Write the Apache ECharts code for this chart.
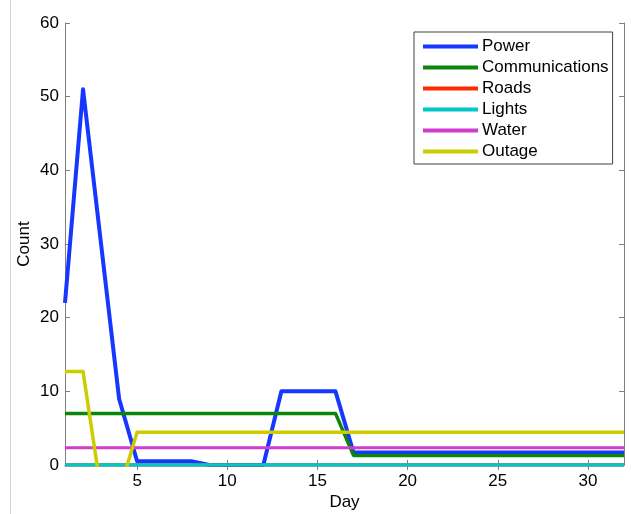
<!DOCTYPE html>
<html>
<head>
<meta charset="utf-8">
<script src="https://cdn.jsdelivr.net/npm/echarts@6/dist/echarts.min.js"></script>
<style>
  html, body { margin: 0; padding: 0; background: #fff; }
  #chart { width: 631px; height: 514px; }
</style>
</head>
<body>
<div id="chart"></div>
<script>
// Daily report counts by category
const days = [1, 2, 3, 4, 5, 6, 7, 8, 9, 10, 11, 12, 13, 14, 15, 16,
              17, 18, 19, 20, 21, 22, 23, 24, 25, 26, 27, 28, 29, 30, 31, 32];
const power = [22, 51, 30, 9, 0.5, 0.5, 0.5, 0.5, 0, 0, 0, 0, 10, 10, 10, 10,
               1.7, 1.7, 1.7, 1.7, 1.7, 1.7, 1.7, 1.7, 1.7, 1.7, 1.7, 1.7, 1.7, 1.7, 1.7, 1.7];
const communications = [7, 7, 7, 7, 7, 7, 7, 7, 7, 7, 7, 7, 7, 7, 7, 7,
                        1.3, 1.3, 1.3, 1.3, 1.3, 1.3, 1.3, 1.3, 1.3, 1.3, 1.3, 1.3, 1.3, 1.3, 1.3, 1.3];
const roads = [0, 0, 0, 0, 0, 0, 0, 0, 0, 0, 0, 0, 0, 0, 0, 0,
               0, 0, 0, 0, 0, 0, 0, 0, 0, 0, 0, 0, 0, 0, 0, 0];
const lights = [0, 0, 0, 0, 0, 0, 0, 0, 0, 0, 0, 0, 0, 0, 0, 0,
                0, 0, 0, 0, 0, 0, 0, 0, 0, 0, 0, 0, 0, 0, 0, 0];
const water = [2.35, 2.35, 2.35, 2.35, 2.35, 2.35, 2.35, 2.35, 2.35, 2.35, 2.35, 2.35, 2.35, 2.35, 2.35, 2.35,
               2.35, 2.35, 2.35, 2.35, 2.35, 2.35, 2.35, 2.35, 2.35, 2.35, 2.35, 2.35, 2.35, 2.35, 2.35, 2.35];
const outage = [12.7, 12.7, -3.6, -3.6, 4.45, 4.45, 4.45, 4.45, 4.45, 4.45, 4.45, 4.45, 4.45, 4.45, 4.45, 4.45,
                4.45, 4.45, 4.45, 4.45, 4.45, 4.45, 4.45, 4.45, 4.45, 4.45, 4.45, 4.45, 4.45, 4.45, 4.45, 4.45];
const xTicks = [5, 10, 15, 20, 25, 30];

const seriesDefs = [
  { name: 'Power', data: power, color: '#1537ff', width: 4 },
  { name: 'Communications', data: communications, color: '#0a870a', width: 3.5 },
  { name: 'Roads', data: roads, color: '#ff2a00', width: 3.5 },
  { name: 'Lights', data: lights, color: '#00c8c8', width: 3.5 },
  { name: 'Water', data: water, color: '#d03cd0', width: 3 },
  { name: 'Outage', data: outage, color: '#cccc00', width: 3.5 }
];

const FONT = 'Liberation Sans, Arial, sans-serif';
const boxColor = '#808080';

const chart = echarts.init(document.getElementById('chart'), null, { renderer: 'canvas' });

const xCommon = {
  type: 'value', min: 1, max: 32,
  axisLine: { show: true, lineStyle: { color: boxColor, width: 1 } },
  axisTick: { show: true, inside: true, length: 5, lineStyle: { color: boxColor }, customValues: xTicks },
  splitLine: { show: false }
};
const yCommon = {
  type: 'value', min: 0, max: 60, interval: 10,
  axisLine: { show: true, lineStyle: { color: boxColor, width: 1 } },
  axisTick: { show: true, inside: true, length: 5, lineStyle: { color: boxColor } },
  splitLine: { show: false }
};

chart.setOption({
  animation: false,
  backgroundColor: '#ffffff',
  textStyle: { fontFamily: FONT },
  grid: { left: 65, right: 7, top: 23, bottom: 49, containLabel: false, outerBoundsMode: 'none' },
  graphic: [
    { type: 'line', shape: { x1: 10.5, y1: 0, x2: 10.5, y2: 514 }, style: { stroke: '#d0d0d0', lineWidth: 1 }, z: 0 }
  ],
  legend: {
    orient: 'vertical',
    left: 414, top: 32,
    padding: [6, 4, 4, 9],
    itemWidth: 55, itemHeight: 4, itemGap: 4,
    backgroundColor: '#ffffff',
    borderColor: '#404040', borderWidth: 1, borderRadius: 0,
    textStyle: { fontFamily: FONT, fontSize: 17, color: '#000', padding: [0, 0, 0, -1] },
    data: seriesDefs.map(s => ({ name: s.name, icon: 'rect', itemStyle: { color: s.color } })),
    selectedMode: false
  },
  xAxis: [
    Object.assign({}, xCommon, {
      position: 'bottom',
      name: 'Day', nameLocation: 'middle', nameGap: 29, nameMoveOverlap: false,
      nameTextStyle: { fontFamily: FONT, fontSize: 17, color: '#000' },
      axisLabel: { show: true, customValues: xTicks, fontFamily: FONT, fontSize: 17, color: '#000', margin: 8 }
    }),
    Object.assign({}, xCommon, { position: 'top', axisLabel: { show: false } })
  ],
  yAxis: [
    Object.assign({}, yCommon, {
      position: 'left',
      name: 'Count', nameLocation: 'middle', nameGap: 32, nameRotate: 90, nameMoveOverlap: false,
      nameTextStyle: { fontFamily: FONT, fontSize: 17, color: '#000' },
      axisLabel: { show: true, fontFamily: FONT, fontSize: 17, color: '#000', margin: 6 }
    }),
    Object.assign({}, yCommon, { position: 'right', axisLabel: { show: false } })
  ],
  series: seriesDefs.map(s => ({
    name: s.name,
    type: 'line',
    xAxisIndex: 0, yAxisIndex: 0,
    data: s.data.map((v, i) => [days[i], v]),
    showSymbol: false, symbol: 'none',
    clip: true,
    color: s.color,
    lineStyle: { color: s.color, width: s.width, join: 'round' },
    emphasis: { disabled: true }
  }))
});
</script>
</body>
</html>
